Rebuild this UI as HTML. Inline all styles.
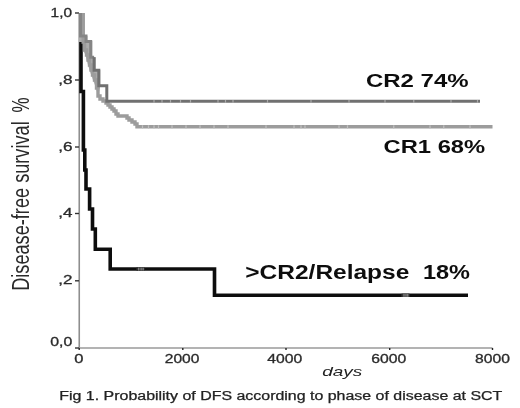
<!DOCTYPE html>
<html><head><meta charset="utf-8">
<style>
html,body{margin:0;padding:0;background:#fff;}
body{width:520px;height:408px;overflow:hidden;}
svg{display:block;}
text{font-family:"Liberation Sans",sans-serif;}
</style></head>
<body>
<svg width="520" height="408" viewBox="0 0 520 408">
<defs><filter id="bl" filterUnits="userSpaceOnUse" x="0" y="0" width="520" height="408"><feGaussianBlur stdDeviation="0.45"/></filter></defs>
<rect width="520" height="408" fill="#fff"/>
<g filter="url(#bl)">
<!-- axes -->
<line x1="79.25" y1="13" x2="79.25" y2="348" stroke="#8e8e8e" stroke-width="1.6"/>
<line x1="79" y1="348" x2="492.5" y2="348" stroke="#9a9a9a" stroke-width="1.7"/>
<!-- y ticks -->
<g stroke="#333" stroke-width="1.4">
<line x1="75" y1="13" x2="79" y2="13"/>
<line x1="75" y1="80" x2="79" y2="80"/>
<line x1="75" y1="147" x2="79" y2="147"/>
<line x1="75" y1="213.5" x2="79" y2="213.5"/>
<line x1="75" y1="280.8" x2="79" y2="280.8"/>
<line x1="75" y1="348" x2="79" y2="348"/>
</g>
<g stroke="#222" stroke-width="1.4">
<line x1="79.2" y1="348" x2="79.2" y2="350"/>
<line x1="182.8" y1="348" x2="182.8" y2="350"/>
<line x1="286" y1="348" x2="286" y2="350"/>
<line x1="389.7" y1="348" x2="389.7" y2="350"/>
<line x1="492.5" y1="348" x2="492.5" y2="350"/>
</g>
<!-- y labels -->
<g fill="#2a2a2a" stroke="#2a2a2a" stroke-width="0.3" font-size="12">
<text x="50.6" y="16.9" textLength="21.4" lengthAdjust="spacingAndGlyphs">1,0</text>
<text x="58.3" y="84" textLength="14.3" lengthAdjust="spacingAndGlyphs">,8</text>
<text x="58.3" y="150.8" textLength="14.3" lengthAdjust="spacingAndGlyphs">,6</text>
<text x="58.3" y="217.3" textLength="14.2" lengthAdjust="spacingAndGlyphs">,4</text>
<text x="58.3" y="284.4" textLength="14.2" lengthAdjust="spacingAndGlyphs">,2</text>
<text x="50.2" y="345.6" textLength="22" lengthAdjust="spacingAndGlyphs">0,0</text>
</g>
<!-- x labels -->
<g fill="#2a2a2a" stroke="#2a2a2a" stroke-width="0.3" font-size="12.5">
<text x="74.3" y="362.5" textLength="9.2" lengthAdjust="spacingAndGlyphs">0</text>
<text x="164.8" y="362.5" textLength="34.6" lengthAdjust="spacingAndGlyphs">2000</text>
<text x="267.3" y="362.5" textLength="35" lengthAdjust="spacingAndGlyphs">4000</text>
<text x="371.3" y="362.5" textLength="35" lengthAdjust="spacingAndGlyphs">6000</text>
<text x="475.1" y="362.5" textLength="34.8" lengthAdjust="spacingAndGlyphs">8000</text>
</g>
<text x="322.3" y="376" font-size="13" font-style="italic" fill="#222" textLength="40" lengthAdjust="spacingAndGlyphs">days</text>
<!-- caption -->
<text x="59.3" y="400" font-size="12" fill="#222" stroke="#222" stroke-width="0.25" textLength="443" lengthAdjust="spacingAndGlyphs">Fig 1. Probability of DFS according to phase of disease at SCT</text>
<!-- y title -->
<g font-size="23" fill="#2a2a2a">
<text transform="translate(28.8,290.8) rotate(-90)" textLength="169.5" lengthAdjust="spacingAndGlyphs">Disease-free survival</text>
<text transform="translate(28.8,112.6) rotate(-90)" textLength="15" lengthAdjust="spacingAndGlyphs">%</text>
</g>
<!-- curves -->
<path d="M81,13 V91.5 H83.4 V150 H84.8 V170 H86 V189 H89.6 V209 H92.5 V229 H95.3 V249.3 H110.2 V269 H214.5 V295.2 H468" fill="none" stroke="#111" stroke-width="3.6" stroke-linejoin="miter"/>
<polygon points="78.8,13 84.7,13 84.7,36 87.4,36 87.4,41 92.3,41 92.3,57 95.6,57 95.6,70 100.3,70 100.3,86 98,96 96,88 93,80 90.5,73 88,65 85.5,55 83,50 83,42 78.8,42" fill="#acacac"/>
<path d="M83.2,13 V42 H84.5 V50 H86.5 V55 H88 V60 H89.5 V65 H91 V70 H92.5 V75 H94.5 V80 H96.5 V88 H98 V96 H100 V99 H103 V101 H106 V103 H108 V105 H110 V107 H112 V109 H114 V111 H116 V114 H118 V116 H127 V118 H129 V120 H132 V122 H135 V124 H137 V126.8 H492.5" fill="none" stroke="#9c9c9c" stroke-width="3.4"/>
<path d="M80.5,13 V36 H86 V41.5 H90.7 V57.2 H94.1" fill="none" stroke="#858585" stroke-width="3"/>
<path d="M94.1,57.2 V70.3 H98.8 V85.7 H106.8 V101.2 H480" fill="none" stroke="#707070" stroke-width="3"/>
<g fill="#a9a9a9">
<rect x="153.40" y="100" width="1.2" height="3"/><rect x="161.40" y="100" width="1.2" height="3"/><rect x="169.90" y="100" width="1.2" height="3"/><rect x="179.90" y="100" width="1.2" height="3"/><rect x="189.90" y="100" width="1.2" height="3"/><rect x="217.40" y="100" width="1.2" height="3"/><rect x="224.90" y="100" width="1.2" height="3"/><rect x="232.40" y="100" width="1.2" height="3"/><rect x="266.90" y="100" width="1.2" height="3"/><rect x="310.40" y="100" width="1.2" height="3"/><rect x="348.40" y="100" width="1.2" height="3"/><rect x="384.40" y="100" width="1.2" height="3"/><rect x="413.15" y="100" width="1.2" height="3"/><rect x="450.40" y="100" width="1.2" height="3"/><rect x="476.90" y="100" width="1.2" height="3"/>
</g><g fill="#c0c0c0"><rect x="141.90" y="125.3" width="1.2" height="3.2"/><rect x="147.90" y="125.3" width="1.2" height="3.2"/><rect x="153.40" y="125.3" width="1.2" height="3.2"/><rect x="157.90" y="125.3" width="1.2" height="3.2"/><rect x="171.40" y="125.3" width="1.2" height="3.2"/><rect x="185.40" y="125.3" width="1.2" height="3.2"/><rect x="199.40" y="125.3" width="1.2" height="3.2"/><rect x="213.40" y="125.3" width="1.2" height="3.2"/><rect x="227.40" y="125.3" width="1.2" height="3.2"/><rect x="265.40" y="125.3" width="1.2" height="3.2"/><rect x="293.40" y="125.3" width="1.2" height="3.2"/><rect x="300.40" y="125.3" width="1.2" height="3.2"/><rect x="304.40" y="125.3" width="1.2" height="3.2"/><rect x="338.40" y="125.3" width="1.2" height="3.2"/><rect x="346.90" y="125.3" width="1.2" height="3.2"/><rect x="393.15" y="125.3" width="1.2" height="3.2"/><rect x="429.40" y="125.3" width="1.2" height="3.2"/><rect x="443.15" y="125.3" width="1.2" height="3.2"/><rect x="469.40" y="125.3" width="1.2" height="3.2"/>
</g>
<rect x="136.5" y="267.4" width="8" height="3.4" fill="#333"/>
<g fill="#9a9a9a"><rect x="138.3" y="267.6" width="1" height="3"/><rect x="140.6" y="267.6" width="1" height="3"/><rect x="142.6" y="267.6" width="1" height="3"/></g>
<rect x="401.5" y="293.6" width="8" height="3.4" fill="#333"/>
<g fill="#9a9a9a"><rect x="403.5" y="293.8" width="1" height="3"/><rect x="405.5" y="293.8" width="1" height="3"/><rect x="407.3" y="293.8" width="1" height="3"/></g>
<!-- labels -->
<g font-weight="bold" fill="#111">
<text x="366" y="87" font-size="18" textLength="102.6" lengthAdjust="spacingAndGlyphs">CR2 74%</text>
<text x="383.6" y="152.6" font-size="18.5" textLength="101.6" lengthAdjust="spacingAndGlyphs">CR1 68%</text>
<text x="245.3" y="278.6" font-size="19.5" textLength="164" lengthAdjust="spacingAndGlyphs">&gt;CR2/Relapse</text>
<text x="423" y="278.6" font-size="19.5" textLength="47" lengthAdjust="spacingAndGlyphs">18%</text>
</g>
</g>
</svg>
</body></html>
